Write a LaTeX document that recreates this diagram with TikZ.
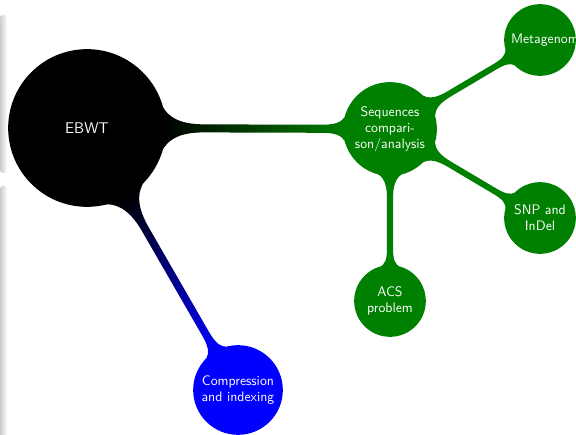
\documentclass[tikz,border=0pt]{standalone}
\usepackage{tikz}
\usetikzlibrary{mindmap, shadings}
\definecolor{rootcol}{RGB}{0,0,0}
\definecolor{seqcol}{RGB}{0,128,0}
\definecolor{compcol}{RGB}{0,0,255}

\begin{document}
\begin{tikzpicture}[mindmap,
  textfont/.style={font=\sffamily\fontsize{9.8}{11.4}\selectfont},
  rootconcept/.style={concept, concept color=rootcol, text=white,
    minimum size=3.9cm, text width=3cm, align=center,
    font=\sffamily\fontsize{11}{13}\selectfont},
  topconcept/.style={concept, text=white, minimum size=2.2cm,
    text width=1.9cm, align=center, textfont},
  leafconcept/.style={concept, concept color=seqcol, text=white,
    minimum size=1.75cm, text width=1.45cm, align=center, textfont},
  shadowbar/.style={left color=gray!40, middle color=gray!75,
    right color=white, rounded corners=2pt}]

  % Frame of the slide
  \useasboundingbox (0,0) rectangle (14.4,10.85);
  \clip (0,0) rectangle (14.4,10.85);

  % Block shadows at the left edge
  \shade[shadowbar] (0,6.525) rectangle (0.18,10.475);
  \shade[shadowbar] (0,-0.2) rectangle (0.18,6.2);

  % Concepts
  \node[rootconcept] (root) at (2.175,7.65) {EBWT};
  \node[topconcept, concept color=seqcol] (seq) at (9.75,7.625)
    {Sequences\\compari-\\son/analysis};
  \node[topconcept, concept color=compcol] (comp) at (5.95,1.1)
    {Compression\\and indexing};
  \node[leafconcept] (meta) at (13.5,9.85) {Metagenomics};
  \node[leafconcept] (snp) at (13.5,5.4) {SNP and\\InDel};
  \node[leafconcept] (acs) at (9.75,3.325) {ACS\\problem};

  % Connection bars
  \path (root) to[circle connection bar switch color=from (rootcol) to (seqcol)] (seq);
  \path (root) to[circle connection bar switch color=from (rootcol) to (compcol)] (comp);
  \foreach \leaf in {meta, snp, acs} {
    \path (seq) to[circle connection bar switch color=from (seqcol) to (seqcol)] (\leaf);
  }

\end{tikzpicture}
\end{document}
